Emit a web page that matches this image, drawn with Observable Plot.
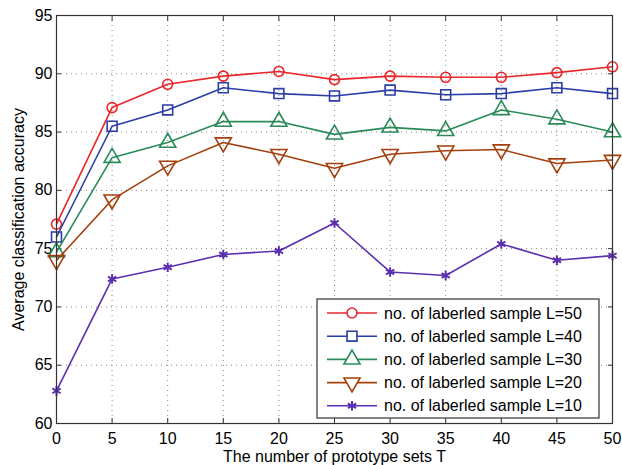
<!DOCTYPE html>
<html>
<head>
<meta charset="utf-8">
<script src="https://cdn.jsdelivr.net/npm/d3@7"></script>
<script src="https://cdn.jsdelivr.net/npm/@observablehq/plot@0.6"></script>
<style>
  html, body { margin: 0; padding: 0; background: #fff; }
  #chart { width: 622px; height: 465px; }
</style>
</head>
<body>
<div id="chart"></div>
<script>
const T = [0, 5, 10, 15, 20, 25, 30, 35, 40, 45, 50];
const yTicks = [60, 65, 70, 75, 80, 85, 90, 95];
const seriesNames = [
  "no. of laberled sample L=50",
  "no. of laberled sample L=40",
  "no. of laberled sample L=30",
  "no. of laberled sample L=20",
  "no. of laberled sample L=10"
];
const accL50 = [77.1, 87.1, 89.1, 89.8, 90.2, 89.5, 89.8, 89.7, 89.7, 90.1, 90.6];
const accL40 = [76.0, 85.5, 86.9, 88.8, 88.3, 88.1, 88.6, 88.2, 88.3, 88.8, 88.3];
const accL30 = [74.7, 82.8, 84.1, 85.9, 85.9, 84.8, 85.4, 85.1, 86.9, 86.1, 85.0];
const accL20 = [74.0, 79.2, 82.1, 84.1, 83.1, 81.9, 83.1, 83.4, 83.5, 82.3, 82.6];
const accL10 = [62.8, 72.4, 73.4, 74.5, 74.8, 77.2, 73.0, 72.7, 75.4, 74.0, 74.4];
const colors = ["#e8272b", "#2b3da6", "#2a8a58", "#a3400e", "#5b2fae"];

const allSeries = [accL50, accL40, accL30, accL20, accL10];
const styles = [
  {symbol: "circle", r: 5, rotate: 0},
  {symbol: "square", r: 5.6, rotate: 0},
  {symbol: "triangle", r: 6, rotate: 0},
  {symbol: "triangle", r: 6, rotate: 180},
  {symbol: "asterisk", r: 4.5, rotate: 0}
];

const data = allSeries.map((vals, i) => T.map((t, j) => ({T: t, acc: vals[j], s: seriesNames[i]})));

const font = "'Liberation Sans', Arial, sans-serif";
const marks = [
  Plot.gridX(T, {stroke: "#888", strokeOpacity: 1, strokeDasharray: "1,4"}),
  Plot.gridY(yTicks, {stroke: "#888", strokeOpacity: 1, strokeDasharray: "1,4"}),
  Plot.axisX({ticks: T, tickSize: 0, tickPadding: 9, label: "The number of prototype sets T", labelAnchor: "center", labelArrow: "none", labelOffset: 38, fontSize: 16}),
  Plot.axisY({ticks: yTicks, tickSize: 0, tickPadding: 4, label: "Average classification accuracy", labelAnchor: "center", labelArrow: "none", labelOffset: 44, fontSize: 16}),
  Plot.axisX({ticks: T, anchor: "bottom", tickSize: -5, text: null, label: null, stroke: "#333"}),
  Plot.axisX({ticks: T, anchor: "top", tickSize: -5, text: null, label: null, stroke: "#333"}),
  Plot.axisY({ticks: yTicks, anchor: "left", tickSize: -5, text: null, label: null, stroke: "#333"}),
  Plot.axisY({ticks: yTicks, anchor: "right", tickSize: -5, text: null, label: null, stroke: "#333"}),
];
data.forEach((d, i) => {
  marks.push(Plot.line(d, {x: "T", y: "acc", stroke: colors[i], strokeWidth: 1.6}));
  marks.push(Plot.dot(d, {x: "T", y: "acc", stroke: colors[i], fill: i === 4 ? colors[i] : "none", strokeWidth: i === 4 ? 2 : 1.6, symbol: styles[i].symbol, r: styles[i].r, rotate: styles[i].rotate}));
});
marks.push(Plot.frame({stroke: "#333", strokeWidth: 1.2}));

const chart = Plot.plot({
  width: 622,
  height: 465,
  marginLeft: 56,
  marginRight: 10,
  marginTop: 15,
  marginBottom: 42,
  style: {fontFamily: font, fontSize: "16px", color: "#000", background: "#fff"},
  x: {domain: [0, 50], label: "The number of prototype sets T"},
  y: {domain: [60, 95], label: "Average classification accuracy"},
  marks
});
document.getElementById("chart").appendChild(chart);

// Legend
const svg = d3.select(chart);
const lg = svg.append("g").attr("font-family", font).attr("font-size", 16).attr("text-anchor", "start");
lg.append("rect").attr("x", 317).attr("y", 299).attr("width", 282).attr("height", 119)
  .attr("fill", "#fff").attr("stroke", "#333").attr("stroke-width", 1.2);
const symMap = {circle: d3.symbolCircle, square: d3.symbolSquare, triangle: d3.symbolTriangle, asterisk: d3.symbolAsterisk};
seriesNames.forEach((name, i) => {
  const y = 313 + i * 23.2;
  lg.append("line").attr("x1", 327).attr("x2", 377).attr("y1", y).attr("y2", y)
    .attr("stroke", colors[i]).attr("stroke-width", 1.6);
  const st = styles[i];
  lg.append("path")
    .attr("d", d3.symbol(symMap[st.symbol], Math.PI * st.r * st.r)())
    .attr("transform", `translate(352,${y}) rotate(${st.rotate})`)
    .attr("fill", i === 4 ? colors[i] : "#fff").attr("stroke", colors[i]).attr("stroke-width", i === 4 ? 2 : 1.6);
  lg.append("text").attr("x", 384).attr("y", y).attr("dy", "0.35em").attr("text-anchor", "start").attr("fill", "#000").text(name);
});
</script>
</body>
</html>
